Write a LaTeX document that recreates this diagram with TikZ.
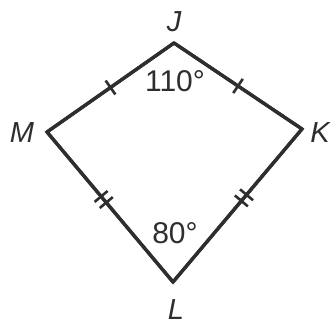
\documentclass[tikz,border=0pt]{standalone}
\usepackage{fontspec}
\setmainfont{Liberation Sans}
\usetikzlibrary{decorations.markings}
\definecolor{ink}{HTML}{2E2E2E}
\begin{document}
\begin{tikzpicture}[x=1pt,y=-1pt,
  side/.style={draw=ink,line width=3.3pt,line join=miter},
  vlabel/.style={text=ink,font=\fontsize{29}{30}\selectfont\itshape,inner sep=0pt},
  alabel/.style={text=ink,font=\fontsize{30}{31}\selectfont,inner sep=0pt},
  onetick/.style={postaction={decorate},decoration={markings,
    mark=at position 0.5 with {\draw[ink,line width=2.6pt] (0,-8.5)--(0,8.5);}}},
  twotick/.style={postaction={decorate},decoration={markings,
    mark=at position 0.45 with {\draw[ink,line width=2.6pt] (-4,-8.5)--(-4,8.5) (4,-8.5)--(4,8.5);}}}]
\useasboundingbox (0,0) rectangle (332,326);
\coordinate (J) at (174,43);
\coordinate (K) at (302,129);
\coordinate (L) at (173,282);
\coordinate (M) at (47,132);
\draw[side,onetick] (M) -- (J);
\draw[side,onetick] (J) -- (K);
\draw[side,twotick] (M) -- (L);
\draw[side,twotick] (K) -- (L);
\draw[side] (M) -- (J) -- (K) -- (L) -- cycle;
\node[vlabel] (lJ) at (174,22) {J};
\node[vlabel] (lM) at (22,133) {M};
\node[vlabel] (lK) at (320,133) {K};
\node[vlabel] (lL) at (176,310) {L};
\node[alabel] (aJ) at (175,81) {110°};
\node[alabel] (aL) at (175,233) {80°};
\end{tikzpicture}
\end{document}
